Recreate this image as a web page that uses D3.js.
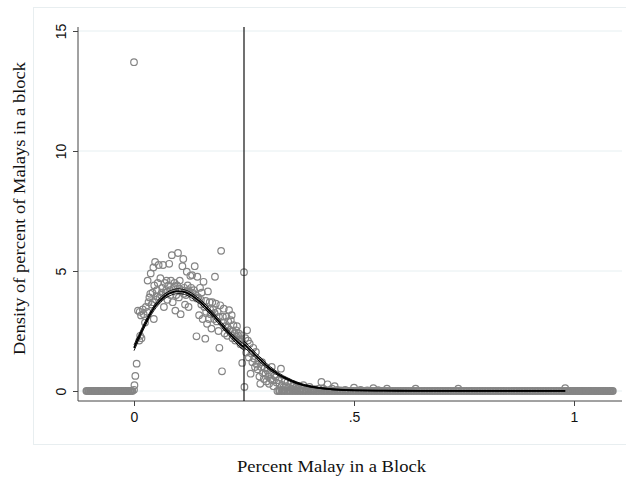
<!DOCTYPE html>
<html>
<head>
<meta charset="utf-8">
<script src="https://cdn.jsdelivr.net/npm/d3@7"></script>
<style>
  body { margin: 0; background: #fff; }
  .tick-label { font-family: "Liberation Sans", Arial, sans-serif; font-size: 14px; fill: #111; }
  .axis-title { font-family: "Liberation Serif", "Times New Roman", serif; font-size: 17.5px; fill: #111; }
</style>
</head>
<body>
<div id="chart"></div>
<script>
// Bin densities: [percent Malay, density]
const binPoints = [
  [0.000, 13.7], [0.000, 0.05], [0.001, 0.24], [0.003, 0.63], [0.006, 1.14],
  [0.012, 2.1], [0.014, 2.3], [0.017, 2.2], [0.009, 3.35], [0.013, 3.3], [0.016, 3.15],
  [0.020, 3.4], [0.022, 3.2], [0.025, 2.85], [0.027, 3.5], [0.030, 3.3], [0.031, 4.6],
  [0.033, 3.7], [0.035, 3.9], [0.037, 4.05], [0.038, 4.9], [0.040, 3.6], [0.042, 4.1],
  [0.044, 5.15], [0.045, 3.0], [0.046, 4.4], [0.048, 5.38], [0.050, 3.8], [0.052, 4.2],
  [0.054, 4.5], [0.056, 5.25], [0.058, 3.9], [0.060, 4.7], [0.062, 4.0], [0.064, 4.3],
  [0.066, 5.25], [0.068, 3.5], [0.070, 4.5], [0.072, 4.1], [0.074, 4.6], [0.076, 3.8],
  [0.078, 4.4], [0.080, 5.3], [0.082, 4.2], [0.084, 4.6], [0.086, 5.66], [0.088, 3.7],
  [0.090, 4.3], [0.092, 4.5], [0.094, 3.35], [0.096, 4.0], [0.098, 4.4], [0.100, 5.75],
  [0.102, 3.9], [0.104, 4.6], [0.106, 3.2], [0.108, 4.2], [0.110, 5.2], [0.112, 5.5],
  [0.114, 4.3], [0.116, 3.6], [0.118, 4.0], [0.120, 4.97], [0.122, 4.4], [0.124, 3.5],
  [0.126, 4.1], [0.128, 4.8], [0.130, 4.3], [0.132, 4.83], [0.134, 3.9], [0.136, 4.2],
  [0.138, 5.2], [0.140, 4.0], [0.142, 2.28], [0.144, 4.76], [0.146, 3.9], [0.148, 3.16],
  [0.150, 4.3], [0.152, 3.8], [0.154, 4.1], [0.156, 3.0], [0.158, 4.55], [0.160, 3.5],
  [0.162, 2.18], [0.164, 3.3], [0.166, 2.8], [0.168, 4.15], [0.170, 3.0], [0.172, 3.7],
  [0.174, 3.2], [0.176, 2.6], [0.178, 3.7], [0.180, 3.4], [0.182, 3.0], [0.184, 4.76],
  [0.186, 3.64], [0.188, 2.9], [0.190, 3.3], [0.192, 2.5], [0.194, 1.8], [0.196, 3.57],
  [0.198, 5.84], [0.200, 0.82], [0.202, 3.1], [0.204, 3.43], [0.206, 2.4], [0.208, 2.7],
  [0.210, 3.1], [0.212, 2.3], [0.214, 2.9], [0.216, 3.37], [0.218, 2.55], [0.220, 2.95],
  [0.222, 3.16], [0.224, 2.2], [0.226, 2.74], [0.228, 2.4], [0.230, 2.1], [0.232, 2.53],
  [0.234, 2.7], [0.236, 2.3], [0.238, 2.4], [0.240, 2.1], [0.242, 1.95], [0.244, 2.32],
  [0.246, 1.17], [0.248, 1.9], [0.250, 4.95], [0.251, 0.17], [0.253, 2.2], [0.255, 1.6],
  [0.257, 2.53], [0.259, 2.1], [0.261, 1.4], [0.263, 1.97], [0.265, 0.72], [0.267, 1.56],
  [0.269, 1.2], [0.271, 1.8], [0.273, 1.35], [0.275, 1.0], [0.277, 1.63], [0.279, 1.1],
  [0.281, 0.9], [0.283, 1.28], [0.285, 0.6], [0.287, 0.3], [0.289, 1.0], [0.291, 1.2],
  [0.293, 0.75], [0.295, 0.5], [0.297, 0.95], [0.299, 0.72], [0.301, 0.4], [0.303, 0.85],
  [0.305, 0.6], [0.307, 0.3], [0.309, 0.7], [0.311, 0.5], [0.313, 1.0], [0.315, 0.45],
  [0.317, 0.2], [0.319, 0.65], [0.322, 0.58], [0.324, 0.35], [0.326, 0.0], [0.328, 0.45],
  [0.331, 0.3], [0.334, 0.93], [0.336, 0.25], [0.338, 0.05], [0.340, 0.17], [0.343, 0.4],
  [0.346, 0.2], [0.349, 0.38], [0.352, 0.15], [0.355, 0.3], [0.358, 0.1], [0.361, 0.2],
  [0.363, 0.24], [0.366, 0.05], [0.368, 0.15], [0.371, 0.1], [0.374, 0.2], [0.377, 0.05],
  [0.380, 0.12], [0.385, 0.24], [0.390, 0.08], [0.395, 0.1], [0.399, 0.17], [0.404, 0.05],
  [0.410, 0.08], [0.415, 0.03], [0.420, 0.1], [0.426, 0.38], [0.430, 0.1], [0.435, 0.05],
  [0.440, 0.28], [0.446, 0.05], [0.450, 0.1], [0.456, 0.2], [0.462, 0.05], [0.470, 0.03],
  [0.480, 0.05], [0.500, 0.14], [0.515, 0.05], [0.530, 0.03], [0.544, 0.12], [0.555, 0.04],
  [0.575, 0.1], [0.640, 0.1], [0.737, 0.1], [0.980, 0.12],
  [0.043, 3.7], [0.053, 3.95], [0.063, 4.1], [0.073, 4.2], [0.083, 4.0], [0.093, 4.35],
  [0.103, 4.25], [0.113, 4.05], [0.123, 4.2], [0.133, 4.1], [0.143, 3.85], [0.153, 3.6],
  [0.163, 3.75], [0.173, 3.4], [0.183, 3.25], [0.193, 3.1], [0.203, 2.85], [0.213, 2.65],
  [0.223, 2.5], [0.233, 2.25], [0.243, 2.15], [0.247, 2.0]
];

// Empty bins (density 0), bin midpoints in thousandths
const emptyBins = [
  -108, -104, -100, -96, -92, -88, -84, -80, -76, -72, -68, -64, -60, -56, -52, -48,
  -44, -40, -36, -32, -28, -24, -20, -16, -12, -8, -4,
  330, 336, 342, 348, 354, 360, 366, 372, 378, 384, 390, 396, 402, 408, 414, 420, 426,
  432, 438, 444, 450, 456, 462, 468, 474, 480, 486, 492, 498, 504, 510, 516, 522, 528,
  534, 540, 546, 552, 558, 564, 570, 576, 582, 588, 594, 600, 606, 612, 618, 624, 630,
  636, 642, 648, 654, 660, 666, 672, 678, 684, 690, 696, 702, 708, 714, 720, 726, 732,
  738, 744, 750, 756, 762, 768, 774, 780, 786, 792, 798, 804, 810, 816, 822, 828, 834,
  840, 846, 852, 858, 864, 870, 876, 882, 888, 894, 900, 906, 912, 918, 924, 930, 936,
  942, 948, 954, 960, 966, 972, 978,
  984, 988, 992, 996, 1000, 1004, 1008, 1012, 1016, 1020, 1024, 1028, 1032, 1036, 1040,
  1044, 1048, 1052, 1056, 1060, 1064, 1068, 1072, 1076, 1080, 1084, 1088
];

// Local linear fit left of the cutoff, with CI half-width
const fitLeftX  = [0, 0.01, 0.02, 0.03, 0.04, 0.05, 0.06, 0.07, 0.08, 0.09, 0.10, 0.11, 0.12,
                   0.13, 0.14, 0.15, 0.16, 0.17, 0.18, 0.19, 0.20, 0.21, 0.22, 0.23, 0.24, 0.25];
const fitLeftY  = [1.8, 2.2, 2.6, 2.97, 3.3, 3.57, 3.78, 3.95, 4.06, 4.13, 4.16, 4.14, 4.09,
                   3.99, 3.86, 3.72, 3.55, 3.36, 3.16, 2.95, 2.74, 2.53, 2.33, 2.14, 1.97, 1.82];
const ciLeft    = [0.12, 0.11, 0.1, 0.1, 0.1, 0.1, 0.1, 0.1, 0.1, 0.1, 0.1, 0.1, 0.1,
                   0.1, 0.1, 0.1, 0.1, 0.1, 0.1, 0.1, 0.1, 0.1, 0.1, 0.11, 0.12, 0.13];

// Fit right of the cutoff
const fitRightX = [0.25, 0.26, 0.27, 0.28, 0.29, 0.30, 0.31, 0.32, 0.33, 0.34, 0.35, 0.36, 0.37,
                   0.38, 0.39, 0.40, 0.42, 0.44, 0.46, 0.48, 0.50, 0.55, 0.60, 0.70, 0.80, 0.90, 0.98];
const fitRightY = [1.95, 1.78, 1.6, 1.42, 1.25, 1.08, 0.93, 0.8, 0.68, 0.58, 0.49, 0.41, 0.34,
                   0.28, 0.23, 0.19, 0.13, 0.09, 0.06, 0.04, 0.03, 0.015, 0.01, 0.005, 0.003, 0.002, 0.002];
const ciRight   = [0.13, 0.12, 0.11, 0.1, 0.1, 0.09, 0.08, 0.07, 0.06, 0.05, 0.05, 0.04, 0.04,
                   0.03, 0.03, 0.03, 0.02, 0.02, 0.02, 0.02, 0.01, 0.01, 0.01, 0.01, 0.01, 0.01, 0.01];

const cutoff = 0.25;
const xTicks = [0, 0.5, 1];
const xTickLabels = ['0', '.5', '1'];
const yTicks = [0, 5, 10, 15];

const W = 626, H = 485;
const svg = d3.select('#chart').append('svg')
    .attr('width', W)
    .attr('height', H);

const x = d3.scaleLinear().domain([0, 1]).range([134, 574]);
const y = d3.scaleLinear().domain([0, 15]).range([391, 31]);

const plotLeft = 78, plotRight = 622, plotTop = 27, plotBottom = 401;

// outer frame
svg.append('rect')
    .attr('x', 33.5).attr('y', 7.5)
    .attr('width', 600).attr('height', 437)
    .attr('fill', 'none')
    .attr('stroke', '#e8eef0');

// gridlines
svg.append('g').selectAll('line')
    .data(yTicks)
    .join('line')
    .attr('x1', plotLeft).attr('x2', plotRight)
    .attr('y1', d => y(d)).attr('y2', d => y(d))
    .attr('stroke', '#e6eff1')
    .attr('stroke-width', 1);

// y axis
const yAxis = svg.append('g')
    .attr('transform', 'translate(' + plotLeft + ',0)')
    .call(d3.axisLeft(y).tickValues(yTicks).tickSize(5).tickSizeOuter(0));
yAxis.select('.domain').remove();
yAxis.selectAll('.tick line').attr('stroke', '#444');
yAxis.selectAll('.tick text').remove();
yAxis.selectAll('.tick').append('text')
    .attr('class', 'tick-label')
    .attr('transform', 'translate(-12,0) rotate(-90)')
    .attr('text-anchor', 'middle')
    .text(d => d);

// x axis
const xAxis = svg.append('g')
    .attr('transform', 'translate(0,' + plotBottom + ')')
    .call(d3.axisBottom(x).tickValues(xTicks).tickSize(5).tickSizeOuter(0).tickFormat((d, i) => xTickLabels[i]));
xAxis.select('.domain').remove();
xAxis.selectAll('.tick line').attr('stroke', '#444');
xAxis.selectAll('.tick text')
    .attr('class', 'tick-label')
    .attr('font-family', null).attr('font-size', null).attr('fill', null)
    .attr('y', 11).attr('dy', '0.71em');

// axis lines
svg.append('line')
    .attr('x1', plotLeft).attr('x2', plotLeft)
    .attr('y1', plotTop).attr('y2', plotBottom)
    .attr('stroke', '#444');
svg.append('line')
    .attr('x1', plotLeft).attr('x2', plotRight)
    .attr('y1', plotBottom).attr('y2', plotBottom)
    .attr('stroke', '#444');

// bin points
const circleStyle = sel => sel
    .attr('r', 3.3)
    .attr('fill', 'none')
    .attr('stroke', '#858585')
    .attr('stroke-width', 1.2);

// the empty bins overlap into one solid band
svg.append('g').selectAll('circle')
    .data(emptyBins)
    .join('circle')
    .attr('cx', d => x(d / 1000))
    .attr('cy', y(0))
    .call(circleStyle)
    .attr('r', 3)
    .attr('stroke-width', 2);

svg.append('g').selectAll('circle')
    .data(binPoints)
    .join('circle')
    .attr('cx', d => x(d[0]))
    .attr('cy', d => y(d[1]))
    .call(circleStyle);

// cutoff line
svg.append('line')
    .attr('x1', x(cutoff)).attr('x2', x(cutoff))
    .attr('y1', plotTop).attr('y2', plotBottom)
    .attr('stroke', '#111')
    .attr('stroke-width', 1.2);

// fitted curves with CI bands
function drawFit(xs, ys, ci) {
    const pts = xs.map((v, i) => ({ x: v, y: ys[i], ci: ci[i] }));
    const line = acc => d3.line().x(d => x(d.x)).y(d => y(acc(d))).curve(d3.curveMonotoneX);
    svg.append('path').datum(pts)
        .attr('d', line(d => d.y + d.ci))
        .attr('fill', 'none').attr('stroke', '#000').attr('stroke-width', 0.9);
    svg.append('path').datum(pts)
        .attr('d', line(d => d.y - d.ci))
        .attr('fill', 'none').attr('stroke', '#000').attr('stroke-width', 0.9);
    svg.append('path').datum(pts)
        .attr('d', line(d => d.y))
        .attr('fill', 'none').attr('stroke', '#000').attr('stroke-width', 1.8);
}
drawFit(fitLeftX, fitLeftY, ciLeft);
drawFit(fitRightX, fitRightY, ciRight);

// axis titles
svg.append('text')
    .attr('class', 'axis-title')
    .attr('x', 331.5).attr('y', 472)
    .attr('text-anchor', 'middle')
    .attr('textLength', 189)
    .attr('lengthAdjust', 'spacingAndGlyphs')
    .text('Percent Malay in a Block');

svg.append('text')
    .attr('class', 'axis-title')
    .attr('transform', 'translate(25,208.5) rotate(-90)')
    .attr('text-anchor', 'middle')
    .attr('textLength', 293)
    .attr('lengthAdjust', 'spacingAndGlyphs')
    .text('Density of percent of Malays in a block');
</script>
</body>
</html>
